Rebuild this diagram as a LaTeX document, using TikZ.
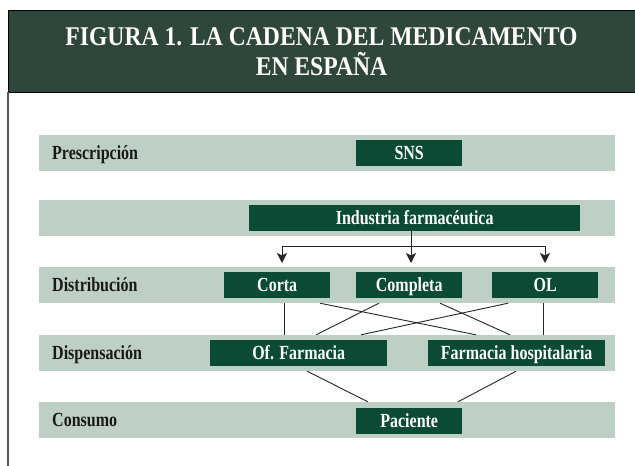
\documentclass[tikz,border=0pt]{standalone}
\usepackage{fontspec}
\setmainfont{Liberation Serif}
\newfontfamily\cond[FakeStretch=0.80]{Liberation Serif}
\newfontfamily\condtitle[FakeStretch=0.875]{Liberation Serif}
\usetikzlibrary{arrows.meta,calc}
\definecolor{hdr}{HTML}{2F463C}
\definecolor{boxg}{HTML}{0B4A34}
\definecolor{band}{HTML}{BED0C6}
\definecolor{frameline}{HTML}{555555}
\tikzset{
  bandrow/.style={fill=band, draw=none, minimum width=576pt, minimum height=36pt, inner sep=0pt, anchor=west},
  rowlabel/.style={anchor=west, inner sep=0pt, text height=13.2pt, text depth=0pt, font=\cond\bfseries\fontsize{20}{22}\selectfont, text=black!90},
  gbox/.style={fill=boxg, draw=none, minimum height=26pt, inner sep=0pt, text height=13.2pt, text depth=0pt, text=white, font=\cond\bfseries\fontsize{20}{22}\selectfont, anchor=west},
  titletext/.style={text=white, font=\condtitle\bfseries\fontsize{27}{30}\selectfont, inner sep=0pt, anchor=base},
  conn/.style={draw=black!85, line width=0.9pt},
  arr/.style={conn, -{Stealth[length=10pt,width=10pt,inset=2.5pt]}},
}
\begin{document}
\begin{tikzpicture}[x=1pt,y=-1pt]
\useasboundingbox (0,0) rectangle (635,466);
\fill[white] (0,0) rectangle (635,466);
% header
\draw[fill=hdr, draw=black, line width=0.9pt] (8,10.7) rectangle (640,92);
\node[titletext] (title1) at (321.5,45) {FIGURA 1. LA CADENA DEL MEDICAMENTO};
\node[titletext] (title2) at (321.5,75) {EN ESPAÑA};
\draw[draw=frameline, line width=2pt] (8,92) -- (8,466);
% bands
\node[bandrow] (presc) at (39,153) {};
\node[bandrow] (indrow) at (39,218) {};
\node[bandrow] (dist) at (39,285) {};
\node[bandrow] (disp) at (39,353) {};
\node[bandrow] (cons) at (39,420) {};
% row labels
\node[rowlabel] (lpresc) at (52,153) {Prescripción};
\node[rowlabel] (ldist) at (52,285) {Distribución};
\node[rowlabel] (ldisp) at (52,353) {Dispensación};
\node[rowlabel] (lcons) at (52,420) {Consumo};
% boxes
\node[gbox, minimum width=106pt] (sns) at (356,153) {SNS};
\node[gbox, minimum width=331pt] (ind) at (249,218) {Industria farmacéutica};
\node[gbox, minimum width=106pt] (corta) at (224,285) {Corta};
\node[gbox, minimum width=106pt] (compl) at (356,285) {Completa};
\node[gbox, minimum width=106pt] (ol) at (492,285) {OL};
\node[gbox, minimum width=177pt] (offarm) at (210,353) {Of. Farmacia};
\node[gbox, minimum width=177pt] (hosp) at (428,353) {Farmacia hospitalaria};
\node[gbox, minimum width=106pt] (pac) at (356,420.5) {Paciente};
% arrows from industry
\coordinate (hub) at (411,246);
\coordinate (t1) at (282,263);
\coordinate (t2) at (411,263);
\coordinate (t3) at (545,263);
\draw[conn] (ind.south -| hub) -- (hub);
\draw[conn] (t1 |- hub) -- (t3 |- hub);
\draw[arr] (t1 |- hub) -- (t1);
\draw[arr] (hub) -- (t2);
\draw[arr] (t3 |- hub) -- (t3);
% distribution -> dispensation
\draw[conn] (284,0 |- dist.south) -- (284,0 |- disp.north);
\draw[conn] (320,0 |- dist.south) -- (476,0 |- disp.north);
\draw[conn] (379,0 |- dist.south) -- (316,0 |- disp.north);
\draw[conn] (440,0 |- dist.south) -- (510,0 |- disp.north);
\draw[conn] (508,0 |- dist.south) -- (361,0 |- disp.north);
\draw[conn] (543,0 |- dist.south) -- (543,0 |- disp.north);
% dispensation -> consumption
\draw[conn] (307,0 |- disp.south) -- (368,0 |- cons.north);
\draw[conn] (516,0 |- disp.south) -- (458,0 |- cons.north);
\end{tikzpicture}
\end{document}
